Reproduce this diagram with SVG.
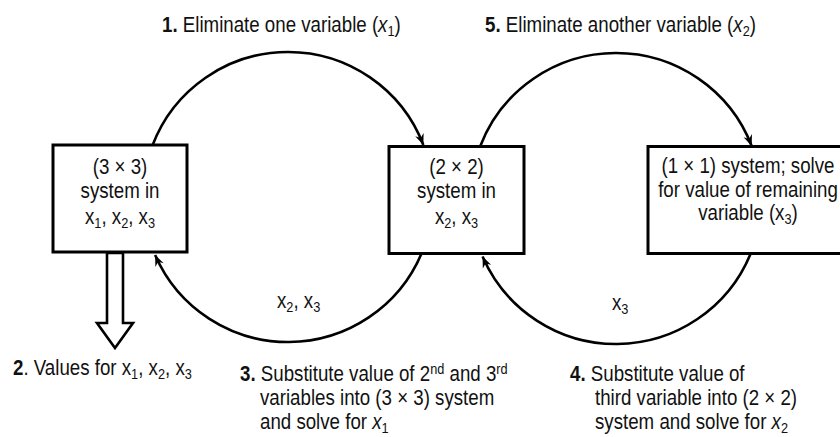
<svg xmlns="http://www.w3.org/2000/svg" width="840" height="437" viewBox="0 0 840 437">
<style>
text{font-family:"Liberation Sans",Arial,sans-serif;font-size:22px;fill:#111}
.c{text-anchor:middle}
.b{font-weight:bold}
.i{font-style:italic}
.s{font-size:15px}
.box{fill:#fff;stroke:#000;stroke-width:3}
.arc{fill:none;stroke:#000;stroke-width:2.6}
</style>
<defs>
<marker id="ah" markerUnits="userSpaceOnUse" markerWidth="14" markerHeight="12" viewBox="-11 -6 12 12" refX="0" refY="0" orient="auto">
<path d="M0,0 L-11,-4.5 L-7.5,0 L-11,4.5 Z" fill="#000"/>
</marker>
</defs>
<rect width="840" height="437" fill="#fff"/>

<g id="node-3x3">
<rect class="box" x="53" y="145" width="134" height="107"/>
<text class="c" transform="translate(120,174) scale(0.85,1)">(3 × 3)</text>
<text class="c" transform="translate(120,198) scale(0.85,1)">system in</text>
<text class="c" transform="translate(120,224) scale(0.85,1)">x<tspan class="s" dy="4">1</tspan><tspan dy="-4">, x</tspan><tspan class="s" dy="4">2</tspan><tspan dy="-4">, x</tspan><tspan class="s" dy="4">3</tspan></text>
</g>

<g id="node-2x2">
<rect class="box" x="389" y="146.5" width="135" height="107"/>
<text class="c" transform="translate(456.5,174) scale(0.85,1)">(2 × 2)</text>
<text class="c" transform="translate(456.5,198) scale(0.85,1)">system in</text>
<text class="c" transform="translate(456.5,224) scale(0.85,1)">x<tspan class="s" dy="4">2</tspan><tspan dy="-4">, x</tspan><tspan class="s" dy="4">3</tspan></text>
</g>

<g id="node-1x1">
<rect class="box" x="648" y="146.5" width="200" height="107"/>
<text class="c" transform="translate(748,173) scale(0.85,1)">(1 × 1) system; solve</text>
<text class="c" transform="translate(748,197) scale(0.85,1)">for value of remaining</text>
<text class="c" transform="translate(748,220) scale(0.85,1)">variable (x<tspan class="s" dy="4">3</tspan><tspan dy="-4">)</tspan></text>
</g>

<g id="connectors">
<path class="arc" d="M152.45,145.5 A145,145 0 0 1 423.36,145" marker-end="url(#ah)"/>
<path class="arc" d="M421.75,253 A145,145 0 0 1 155.11,255" marker-end="url(#ah)"/>
<path class="arc" d="M480.11,146.5 A145.5,145.5 0 0 1 751.7,146" marker-end="url(#ah)"/>
<path class="arc" d="M750.5,254 A145.5,145.5 0 0 1 482.56,256.5" marker-end="url(#ah)"/>
<polygon points="107,253 107,323 97,323 115,348 133,323 123,323 123,253" fill="#fff" stroke="#000" stroke-width="2.6" stroke-linejoin="miter"/>
</g>

<g id="labels">
<text transform="translate(162,32) scale(0.85,1)"><tspan class="b">1.</tspan>  Eliminate one variable (<tspan class="i">x</tspan><tspan class="s" dy="4">1</tspan><tspan dy="-4">)</tspan></text>
<text transform="translate(485,32) scale(0.85,1)"><tspan class="b">5.</tspan>  Eliminate another variable (<tspan class="i">x</tspan><tspan class="s" dy="4">2</tspan><tspan dy="-4">)</tspan></text>
<text transform="translate(277,308) scale(0.85,1)">x<tspan class="s" dy="4">2</tspan><tspan dy="-4">, x</tspan><tspan class="s" dy="4">3</tspan></text>
<text transform="translate(612,310) scale(0.85,1)">x<tspan class="s" dy="4">3</tspan></text>
<text transform="translate(13,375) scale(0.85,1)"><tspan class="b">2</tspan>. Values for x<tspan class="s" dy="4">1</tspan><tspan dy="-4">, x</tspan><tspan class="s" dy="4">2</tspan><tspan dy="-4">, x</tspan><tspan class="s" dy="4">3</tspan></text>
<text transform="translate(240,381) scale(0.85,1)"><tspan class="b">3.</tspan> Substitute value of 2<tspan class="s" dy="-7">nd</tspan><tspan dy="7"> and 3</tspan><tspan class="s" dy="-7">rd</tspan></text>
<text transform="translate(260,405) scale(0.85,1)">variables into (3 × 3) system</text>
<text transform="translate(260,429) scale(0.85,1)">and solve for <tspan class="i">x</tspan><tspan class="s" dy="4">1</tspan></text>
<text transform="translate(570,381) scale(0.85,1)"><tspan class="b">4.</tspan> Substitute value of</text>
<text transform="translate(595,405) scale(0.85,1)">third variable into (2 × 2)</text>
<text transform="translate(595,429) scale(0.85,1)">system and solve for <tspan class="i">x</tspan><tspan class="s" dy="4">2</tspan></text>
</g>
</svg>
